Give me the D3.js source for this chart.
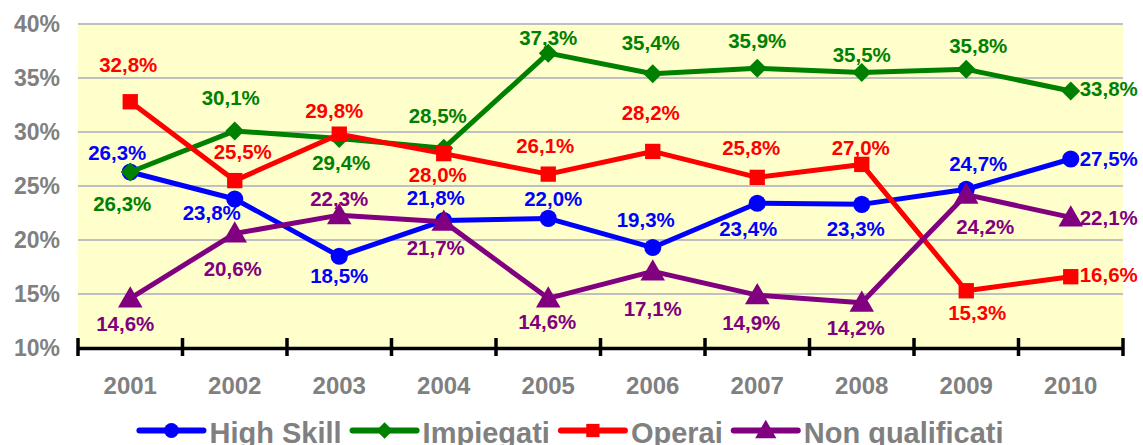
<!DOCTYPE html>
<html>
<head>
<meta charset="utf-8">
<script src="https://cdn.jsdelivr.net/npm/d3@7"></script>
<style>
  body { margin: 0; background: #fff; }
  text { font-family: "Liberation Sans", Arial, sans-serif; font-weight: bold; }
</style>
</head>
<body>
<div id="chart"></div>
<script>
// Data: share by skill level, 2001-2010
var years = ["2001", "2002", "2003", "2004", "2005", "2006", "2007", "2008", "2009", "2010"];
var highSkill = [26.3, 23.8, 18.5, 21.8, 22.0, 19.3, 23.4, 23.3, 24.7, 27.5];
var impiegati = [26.3, 30.1, 29.4, 28.5, 37.3, 35.4, 35.9, 35.5, 35.8, 33.8];
var operai = [32.8, 25.5, 29.8, 28.0, 26.1, 28.2, 25.8, 27.0, 15.3, 16.6];
var nonQualificati = [14.6, 20.6, 22.3, 21.7, 14.6, 17.1, 14.9, 14.2, 24.2, 22.1];
var yTicks = [10, 15, 20, 25, 30, 35, 40];

var series = [
  { name: "High Skill", values: highSkill, color: "#0000ff", symbol: "circle" },
  { name: "Impiegati", values: impiegati, color: "#008000", symbol: "diamond" },
  { name: "Operai", values: operai, color: "#ff0000", symbol: "square" },
  { name: "Non qualificati", values: nonQualificati, color: "#800080", symbol: "triangle" }
];

// label offsets from each point (label centre), by series
var labelOffsets = {
  "High Skill": [[-13, -19], [-23, 14], [0, 19], [-8, -23], [5, -20], [-7, -28], [-9, 25], [-6, 24], [12, -26], [38, 0]],
  "Impiegati": [[-8, 32], [-4, -33], [2, 24], [-6, -33], [0, -16], [-2, -31], [0, -28], [0, -18], [12, -24], [38, -2]],
  "Operai": [[-2, -37], [8, -29], [-5, -24], [-6, 21], [-3, -29], [-2, -39], [-6, -30], [-1, -17], [11, 22], [38, -2]],
  "Non qualificati": [[-5, 25], [-2, 35], [0, -17], [-8, 26], [-1, 23], [0, 37], [-6, 28], [-6, 25], [19, 32], [38, 0]]
};

var width = 1143, height = 445;
var margin = { left: 78, right: 20, top: 24, bottom: 97 };

var svg = d3.select("#chart").append("svg")
  .attr("width", width)
  .attr("height", height);

var x = d3.scaleBand().domain(years).range([margin.left, width - margin.right]);
var y = d3.scaleLinear().domain([10, 40]).range([height - margin.bottom, margin.top]);

var it = d3.formatLocale({ decimal: ",", thousands: ".", grouping: [3], currency: ["", "€"] });
var fmt = it.format(".1f");

// plot background
svg.append("rect")
  .attr("x", margin.left)
  .attr("y", y(40))
  .attr("width", x.range()[1] - margin.left)
  .attr("height", y(10) - y(40))
  .attr("fill", "#ffffcc");

// gridlines
svg.selectAll(".grid")
  .data(yTicks.slice(1))
  .enter()
  .append("line")
  .attr("class", "grid")
  .attr("x1", margin.left)
  .attr("x2", x.range()[1])
  .attr("y1", function (d) { return y(d); })
  .attr("y2", function (d) { return y(d); })
  .attr("stroke", "#c0c0c0")
  .attr("stroke-width", 2);

// y labels
svg.selectAll(".ylab")
  .data(yTicks)
  .enter()
  .append("text")
  .attr("class", "ylab")
  .attr("x", 60)
  .attr("y", function (d) { return y(d); })
  .attr("dy", "0.36em")
  .attr("text-anchor", "end")
  .attr("fill", "#808080")
  .style("font-size", "23px")
  .text(function (d) { return d + "%"; });

// x axis
var xAxis = svg.append("g")
  .attr("transform", "translate(0," + y(10) + ")")
  .call(d3.axisBottom(x).tickSize(0).tickFormat(""));
xAxis.select(".domain").attr("stroke", "#000").attr("stroke-width", 3.5);
var boundaries = years.map(function (d) { return x(d); }).concat([x.range()[1]]);
xAxis.selectAll(".sep")
  .data(boundaries)
  .enter()
  .append("line")
  .attr("class", "sep")
  .attr("x1", function (d) { return d; })
  .attr("x2", function (d) { return d; })
  .attr("y1", -10)
  .attr("y2", 8)
  .attr("stroke", "#000")
  .attr("stroke-width", 3.5);

svg.selectAll(".xlab")
  .data(years)
  .enter()
  .append("text")
  .attr("class", "xlab")
  .attr("x", function (d) { return x(d) + x.bandwidth() / 2; })
  .attr("y", 394)
  .attr("text-anchor", "middle")
  .attr("fill", "#808080")
  .style("font-size", "24px")
  .text(function (d) { return d; });

function symbolPath(kind, big) {
  var s = big ? 1 : 0.75;
  if (kind === "circle") return d3.symbol(d3.symbolCircle, 230 * s)();
  if (kind === "square") return d3.symbol(d3.symbolSquare, 235 * s)();
  if (kind === "diamond") {
    var r = 9.5 * Math.sqrt(s);
    return "M0," + (-r) + "L" + r + ",0L0," + r + "L" + (-r) + ",0Z";
  }
  return d3.symbol(d3.symbolTriangle, 260 * s)();
}

var line = d3.line()
  .x(function (d, i) { return x(years[i]) + x.bandwidth() / 2; })
  .y(function (d) { return y(d); });

series.forEach(function (s) {
  var g = svg.append("g");
  g.append("path")
    .attr("d", line(s.values))
    .attr("fill", "none")
    .attr("stroke", s.color)
    .attr("stroke-width", 5)
    .attr("stroke-linejoin", "round");
  g.selectAll(".mk")
    .data(s.values)
    .enter()
    .append("path")
    .attr("class", "mk")
    .attr("d", symbolPath(s.symbol, true))
    .attr("transform", function (d, i) {
      var dy = s.symbol === "triangle" ? 2 : 0;
      return "translate(" + (x(years[i]) + x.bandwidth() / 2) + "," + (y(d) + dy) + ")";
    })
    .attr("fill", s.color);
});

// data labels drawn after all lines
series.forEach(function (s) {
  var off = labelOffsets[s.name];
  svg.append("g").selectAll("text")
    .data(s.values)
    .enter()
    .append("text")
    .attr("x", function (d, i) { return x(years[i]) + x.bandwidth() / 2 + off[i][0]; })
    .attr("y", function (d, i) { return y(d) + off[i][1]; })
    .attr("dy", "0.36em")
    .attr("text-anchor", "middle")
    .attr("fill", s.color)
    .style("font-size", "20.5px")
    .text(function (d) { return fmt(d) + "%"; });
});

// legend
var legend = svg.append("g");
var lx = 0;
series.forEach(function (s) {
  var item = legend.append("g").attr("transform", "translate(" + lx + ",0)");
  item.append("line")
    .attr("x1", 0).attr("x2", 64)
    .attr("y1", 430.5).attr("y2", 430.5)
    .attr("stroke", s.color)
    .attr("stroke-width", 6)
    .attr("stroke-linecap", "round");
  item.append("path")
    .attr("d", symbolPath(s.symbol, false))
    .attr("transform", "translate(32," + (s.symbol === "triangle" ? 432 : 430.5) + ")")
    .attr("fill", s.color);
  var t = item.append("text")
    .attr("x", 70)
    .attr("y", 443)
    .attr("fill", "#808080")
    .style("font-size", "29px")
    .text(s.name);
  lx += 70 + t.node().getComputedTextLength() + 11;
});
var legendW = lx - 11;
legend.attr("transform", "translate(" + (width / 2 - legendW / 2) + ",0)");
</script>
</body>
</html>
